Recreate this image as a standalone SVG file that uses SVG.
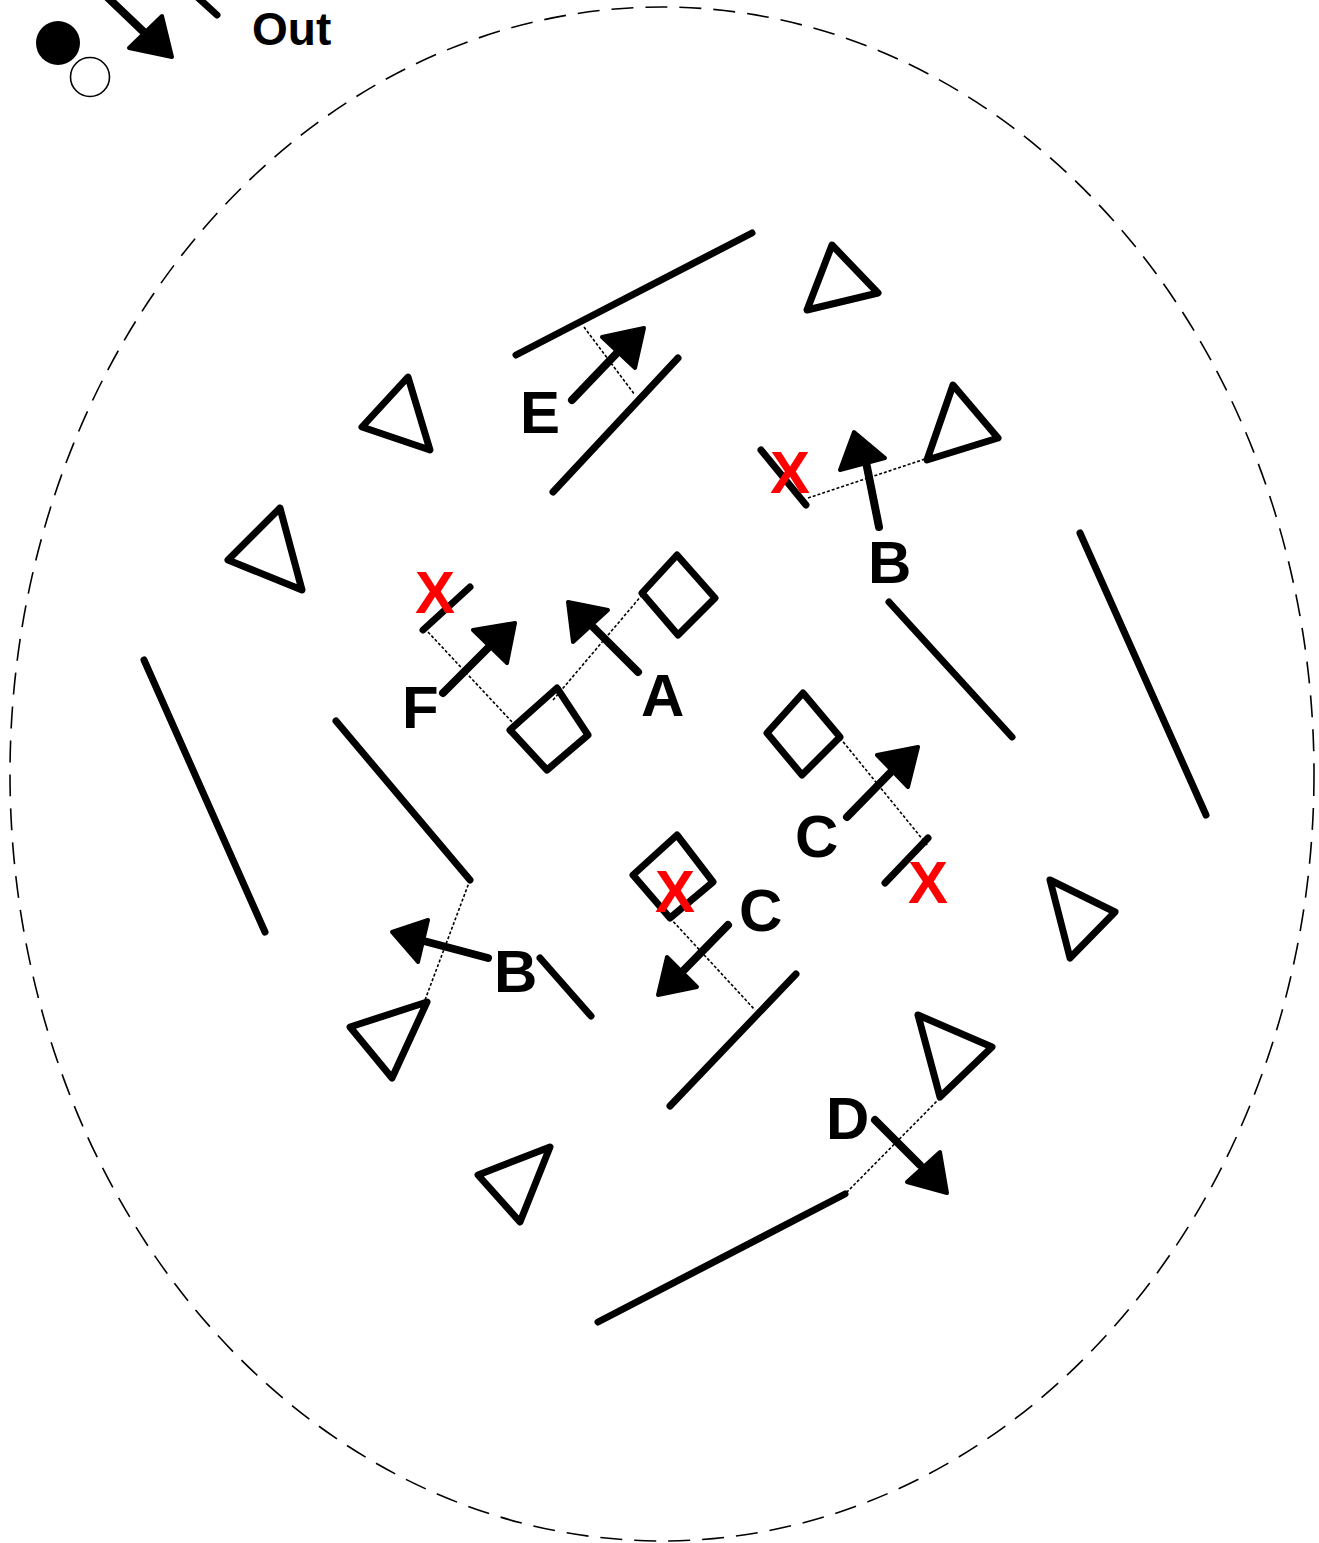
<svg xmlns="http://www.w3.org/2000/svg" width="1319" height="1543" viewBox="0 0 1319 1543">
<style>
.bg{fill:#fff}
.field{fill:none;stroke:#000;stroke-width:1.6;stroke-dasharray:22 12}
.ln{fill:none;stroke:#000;stroke-width:7;stroke-linecap:round;stroke-linejoin:round}
.sh{fill:none;stroke:#000;stroke-width:8;stroke-linecap:round}
.hd{fill:#000;stroke:#000;stroke-width:4;stroke-linejoin:round}
.dot{fill:none;stroke:#000;stroke-width:1.6;stroke-dasharray:3 2}
.lbl{font-family:"Liberation Sans",Arial,sans-serif;font-weight:bold;font-size:60px;fill:#000}
.x{font-family:"Liberation Sans",Arial,sans-serif;font-weight:bold;font-size:60px;fill:#ff0000}
</style>
<rect class="bg" x="0" y="0" width="1319" height="1543"/>
<ellipse class="field" cx="662" cy="774" rx="652" ry="767"/>

<g id="legend">
<circle cx="58" cy="43" r="22" fill="#000"/>
<circle cx="90" cy="77" r="19.5" fill="#fff" stroke="#000" stroke-width="1.6"/>
<line class="sh" x1="104" y1="-6" x2="148" y2="36"/>
<polygon class="hd" points="172,57 129,48 162,16"/>
<line class="ln" x1="194" y1="-6" x2="217" y2="15"/>
<text x="252" y="45" font-family="Liberation Sans,Arial,sans-serif" font-weight="bold" font-size="46">Out</text>
</g>

<g id="cones">
<polygon class="ln" points="832,245 878,293 807,310"/>
<polygon class="ln" points="408,377 362,427 430,450"/>
<polygon class="ln" points="280,508 228,560 302,590"/>
<polygon class="ln" points="1050,880 1115,912 1070,958"/>
<polygon class="ln" points="550,1147 478,1175 520,1222"/>
<polygon class="ln" points="953,385 998,438 927,460"/>
<polygon class="ln" points="427,1002 350,1027 392,1078"/>
<polygon class="ln" points="918,1015 992,1047 940,1097"/>
</g>

<g id="markers">
<polygon class="ln" points="677,555 715,598 678,635 642,593"/>
<polygon class="ln" points="557,688 588,735 547,770 510,730"/>
<polygon class="ln" points="803,693 840,737 802,775 767,733"/>
<polygon class="ln" points="677,835 713,882 670,918 633,875"/>
</g>

<g id="lines">
<line class="ln" x1="516" y1="355" x2="752" y2="233"/>
<line class="ln" x1="553" y1="492" x2="678" y2="358"/>
<line class="ln" x1="889" y1="602" x2="1012" y2="737"/>
<line class="ln" x1="1080" y1="533" x2="1206" y2="815"/>
<line class="ln" x1="144" y1="660" x2="265" y2="932"/>
<line class="ln" x1="336" y1="721" x2="470" y2="880"/>
<line class="ln" x1="540" y1="958" x2="591" y2="1016"/>
<line class="ln" x1="670" y1="1106" x2="796" y2="974"/>
<line class="ln" x1="598" y1="1322" x2="845" y2="1194"/>
<line class="ln" x1="761" y1="450" x2="806" y2="505"/>
<line class="ln" x1="423" y1="630" x2="470" y2="587"/>
<line class="ln" x1="885" y1="883" x2="928" y2="838"/>
</g>

<g id="connectors">
<line class="dot" x1="584" y1="327" x2="635" y2="395"/>
<line class="dot" x1="808" y1="498" x2="925" y2="459"/>
<line class="dot" x1="428" y1="632" x2="513" y2="723"/>
<line class="dot" x1="553" y1="700" x2="642" y2="595"/>
<line class="dot" x1="840" y1="738" x2="928" y2="846"/>
<line class="dot" x1="670" y1="918" x2="755" y2="1010"/>
<line class="dot" x1="470" y1="880" x2="425" y2="1000"/>
<line class="dot" x1="940" y1="1098" x2="847" y2="1192"/>

<line class="sh" x1="572" y1="400" x2="616" y2="354"/>
<polygon class="hd" points="644,328 602,337 635,368"/>
<line class="sh" x1="879" y1="527" x2="866" y2="462"/>
<polygon class="hd" points="854,432 840,470 885,458"/>
<line class="sh" x1="638" y1="672" x2="594" y2="628"/>
<polygon class="hd" points="568,602 573,642 608,610"/>
<line class="sh" x1="443" y1="693" x2="489" y2="647"/>
<polygon class="hd" points="515,623 473,630 507,663"/>
<line class="sh" x1="847" y1="817" x2="892" y2="771"/>
<polygon class="hd" points="918,747 877,755 908,787"/>
<line class="sh" x1="728" y1="925" x2="684" y2="970"/>
<polygon class="hd" points="658,995 697,987 667,957"/>
<line class="sh" x1="488" y1="958" x2="420" y2="940"/>
<polygon class="hd" points="392,932 428,920 418,962"/>
<line class="sh" x1="875" y1="1120" x2="920" y2="1165"/>
<polygon class="hd" points="947,1193 907,1182 940,1152"/>
</g>

<g id="labels">
<text class="lbl" x="520" y="433">E</text>
<text class="lbl" x="868" y="583">B</text>
<text class="lbl" x="402" y="728">F</text>
<text class="lbl" x="641" y="716">A</text>
<text class="lbl" x="795" y="857">C</text>
<text class="lbl" x="739" y="931">C</text>
<text class="lbl" x="494" y="992">B</text>
<text class="lbl" x="826" y="1139">D</text>
<text class="x" x="770" y="493">X</text>
<text class="x" x="415" y="613">X</text>
<text class="x" x="655" y="912">X</text>
<text class="x" x="908" y="903">X</text>
</g>
</svg>
